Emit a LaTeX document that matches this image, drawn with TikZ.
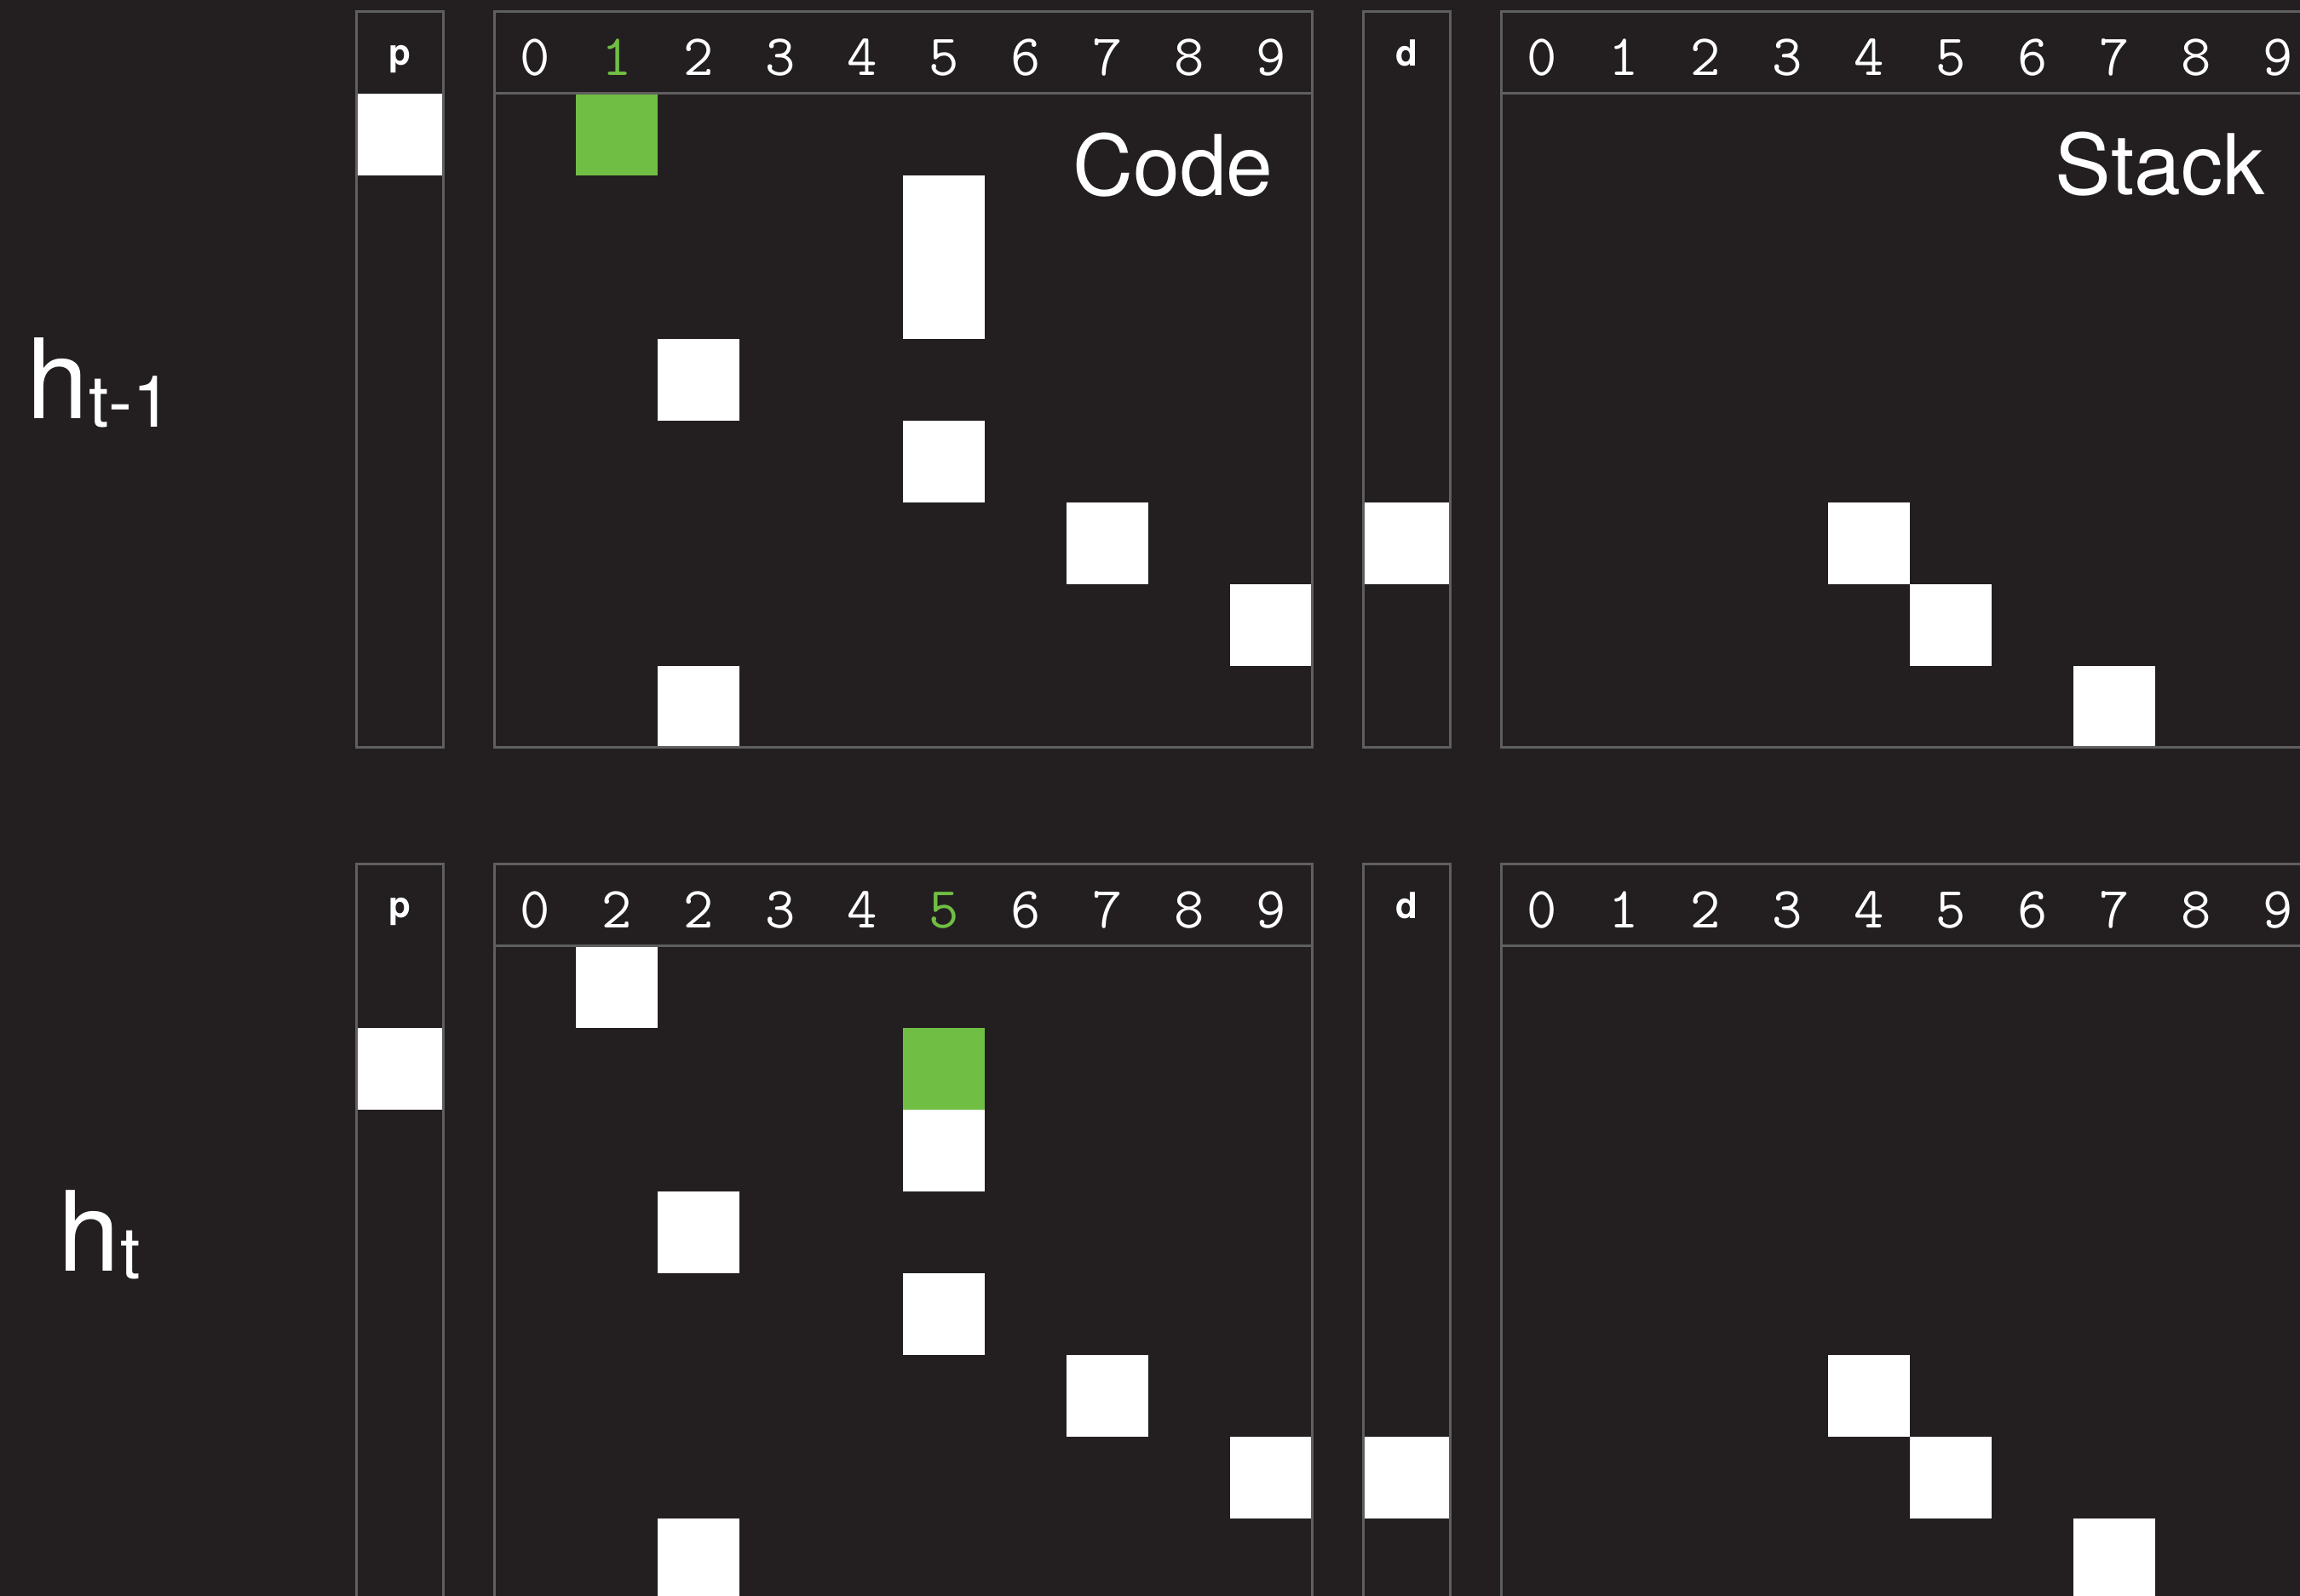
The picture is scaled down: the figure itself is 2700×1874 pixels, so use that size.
\documentclass[tikz,border=0pt]{standalone}
\usepackage{fontspec}
\setmainfont{TeX Gyre Heros}
\definecolor{bg}{RGB}{35,31,32}
\definecolor{frame}{RGB}{95,95,95}
\definecolor{hi}{RGB}{112,190,68}
\begin{document}
\begin{tikzpicture}[x=0.01cm,y=-0.01cm,
  box/.style={draw=frame,line width=0.03cm},
  digit/.style={text=white,font=\ttfamily\fontsize{19.5}{19.5}\selectfont,anchor=base,inner sep=0pt},
  tag/.style={text=white,font=\bfseries\fontsize{12}{12}\selectfont,anchor=base,inner sep=0pt},
  title/.style={text=white,font=\fontsize{28}{28}\selectfont,anchor=base,inner sep=0pt},
  hlabel/.style={text=white,anchor=base west,inner sep=0pt}]
\useasboundingbox (0,0) rectangle (2700,1874);
\clip (0,0) rectangle (2700,1874);
\fill[bg] (0,0) rectangle (2700,1874);

% ---------- top panel: h_{t-1} ----------
\begin{scope}
  \fill[white] (418,110) rectangle (520,206);
  \fill[hi]    (676,110) rectangle +(96,96);
  \fill[white] (1060,206) rectangle +(96,192);
  \fill[white] (772,398) rectangle +(96,96);
  \fill[white] (1060,494) rectangle +(96,96);
  \fill[white] (1252,590) rectangle +(96,96);
  \fill[white] (1444,686) rectangle +(96,96);
  \fill[white] (772,782) rectangle +(96,96);
  \fill[white] (1600,590) rectangle (1702,686);
  \fill[white] (2146,590) rectangle +(96,96);
  \fill[white] (2242,686) rectangle +(96,96);
  \fill[white] (2434,782) rectangle +(96,96);
  \draw[box] (418,14) rectangle (520,878);
  \draw[box] (580,14) rectangle (1540,878);
  \draw[box] (580,110) -- (1540,110);
  \draw[box] (1600,14) rectangle (1702,878);
  \draw[box] (1762,14) rectangle (2722,878);
  \draw[box] (1762,110) -- (2722,110);
  \node[tag] (pA) at (469,77) {p};
  \node[tag] (dA) at (1651,78) {d};
  \foreach \d [count=\i from 0] in {0,{\textcolor{hi}{1}},2,3,4,5,6,7,8,9}
    \node[digit] (cA\i) at (628+96*\i,89) {\d};
  \foreach \d [count=\i from 0] in {0,1,2,3,4,5,6,7,8,9}
    \node[digit] (sA\i) at (1810+96*\i,89) {\d};
  \node[title] (code) at (1377,230) {Code};
  \node[title] (stack) at (2536,229) {Stack};
  \node[hlabel] (hA) at (31,492) {\fontsize{37}{37}\selectfont h\raisebox{-2.6pt}{\fontsize{24}{24}\selectfont t-1}};
\end{scope}

% ---------- bottom panel: h_t ----------
\begin{scope}[yshift=-10cm]
  \fill[white] (418,206) rectangle (520,302);
  \fill[white] (676,110) rectangle +(96,96);
  \fill[hi]    (1060,206) rectangle +(96,96);
  \fill[white] (1060,302) rectangle +(96,96);
  \fill[white] (772,398) rectangle +(96,96);
  \fill[white] (1060,494) rectangle +(96,96);
  \fill[white] (1252,590) rectangle +(96,96);
  \fill[white] (1444,686) rectangle +(96,96);
  \fill[white] (772,782) rectangle +(96,96);
  \fill[white] (1600,686) rectangle (1702,782);
  \fill[white] (2146,590) rectangle +(96,96);
  \fill[white] (2242,686) rectangle +(96,96);
  \fill[white] (2434,782) rectangle +(96,96);
  \draw[box] (418,14) rectangle (520,878);
  \draw[box] (580,14) rectangle (1540,878);
  \draw[box] (580,110) -- (1540,110);
  \draw[box] (1600,14) rectangle (1702,878);
  \draw[box] (1762,14) rectangle (2722,878);
  \draw[box] (1762,110) -- (2722,110);
  \node[tag] (pB) at (469,77) {p};
  \node[tag] (dB) at (1651,78) {d};
  \foreach \d [count=\i from 0] in {0,2,2,3,4,{\textcolor{hi}{5}},6,7,8,9}
    \node[digit] (cB\i) at (628+96*\i,89) {\d};
  \foreach \d [count=\i from 0] in {0,1,2,3,4,5,6,7,8,9}
    \node[digit] (sB\i) at (1810+96*\i,89) {\d};
  \node[hlabel] (hB) at (68,492) {\fontsize{37}{37}\selectfont h\raisebox{-2.6pt}{\fontsize{24}{24}\selectfont t}};
\end{scope}
\end{tikzpicture}
\end{document}
